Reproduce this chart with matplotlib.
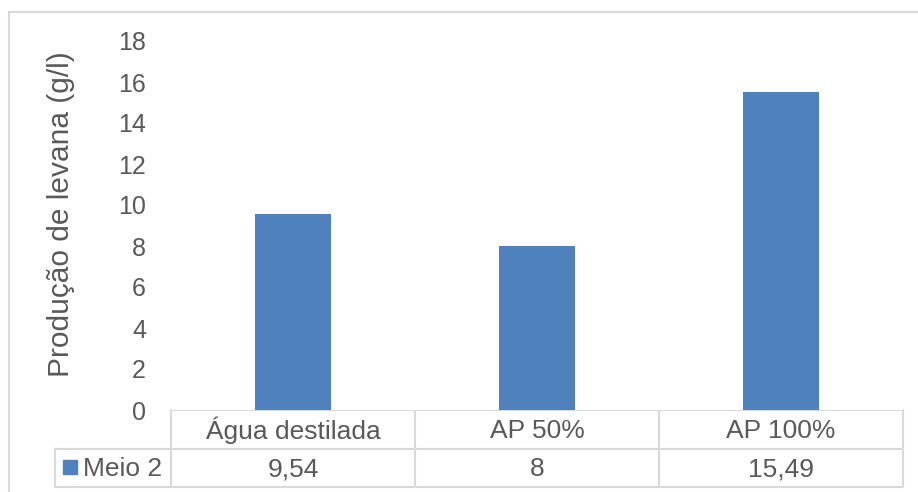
import matplotlib.pyplot as plt
from matplotlib.patches import Rectangle

# --- DATA ---
categories = ["Água destilada", "AP 50%", "AP 100%"]
series_name = "Meio 2"
values = [9.54, 8, 15.49]
value_labels = ["9,54", "8", "15,49"]
y_ticks = [0, 2, 4, 6, 8, 10, 12, 14, 16, 18]

bar_color = "#4F81BD"
text_color = "#595959"
line_color = "#D9D9D9"

plt.rcParams["font.family"] = ["Liberation Sans", "DejaVu Sans"]

W, H = 918, 492
fig = plt.figure(figsize=(W / 100, H / 100), dpi=100)

def fx(px):
    return px / W

def fy(py):
    return 1 - py / H

# outer chart border
fig.patches.append(Rectangle((fx(9), fy(H + 10)), fx(W + 10), fy(12) - fy(H + 10),
                             transform=fig.transFigure, fill=False,
                             edgecolor=line_color, linewidth=1.5))

# --- PLOT AREA ---
left, right, top, bottom = 171, 903, 41, 410
ax = fig.add_axes([fx(left), fy(bottom), fx(right - left), fy(top) - fy(bottom)])
x = range(len(categories))
ax.bar(x, values, width=0.31, color=bar_color)
ax.set_xlim(-0.5, len(categories) - 0.5)
ax.set_ylim(0, 18)
ax.set_yticks(y_ticks)
ax.set_xticks([])
ax.tick_params(axis="y", length=0, pad=18, labelsize=18, labelcolor=text_color)
for s in ax.spines.values():
    s.set_visible(False)
ax.set_ylabel("Produção de levana (g/l)", fontsize=21.5, color=text_color, va="center")
ax.yaxis.set_label_coords((61 - left) / (right - left), (bottom - 214.5) / (bottom - top))

# --- DATA TABLE ---
tab = fig.add_axes([0, 0, 1, 1], zorder=-1)
tab.set_xlim(0, W)
tab.set_ylim(H, 0)
tab.axis("off")

row1, row2, row3 = 410, 449, 487
legend_left = 55
col_w = (right - left) / len(categories)
edges = [left + i * col_w for i in range(len(categories) + 1)]

lw = 1.5
tab.plot([left, right], [row1, row1], color=line_color, lw=lw)
tab.plot([legend_left, right], [row2, row2], color=line_color, lw=lw)
tab.plot([legend_left, right], [row3, row3], color=line_color, lw=lw)
tab.plot([legend_left, legend_left], [row2, row3], color=line_color, lw=lw)
for e in edges:
    tab.plot([e, e], [row1, row3], color=line_color, lw=lw)

for i, (cat, lab) in enumerate(zip(categories, value_labels)):
    cx = (edges[i] + edges[i + 1]) / 2
    tab.text(cx, (row1 + row2) / 2 + 1, cat, ha="center", va="center",
             fontsize=19, color=text_color)
    tab.text(cx, (row2 + row3) / 2 + 1, lab, ha="center", va="center",
             fontsize=19, color=text_color)

tab.add_patch(Rectangle((63, 460), 14, 14, color=bar_color))
tab.text(83, (row2 + row3) / 2 + 1, series_name, ha="left", va="center",
         fontsize=19, color=text_color)

fig.savefig("out.png", dpi=100)
